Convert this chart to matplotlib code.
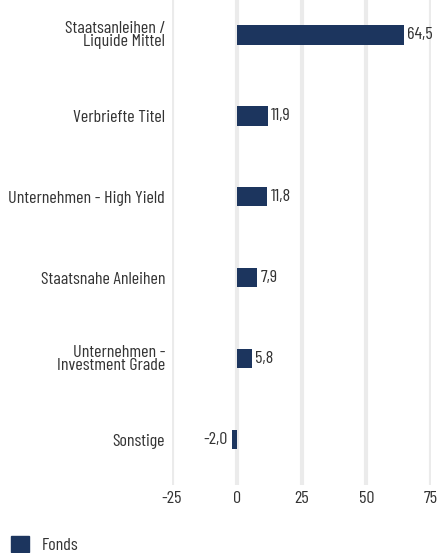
import matplotlib
matplotlib.use("Agg")
import matplotlib.pyplot as plt
from matplotlib.patches import Patch

categories = ["Staatsanleihen /\nLiquide Mittel", "Verbriefte Titel", "Unternehmen - High Yield",
              "Staatsnahe Anleihen", "Unternehmen -\nInvestment Grade", "Sonstige"]
values = [64.5, 11.9, 11.8, 7.9, 5.8, -2.0]
value_labels = ["64,5", "11,9", "11,8", "7,9", "5,8", "-2,0"]
xticks = [-25, 0, 25, 50, 75]
series_name = "Fonds"

plt.rcParams['font.family'] = ['Barlow Condensed', 'Roboto Condensed', 'DejaVu Sans']
plt.rcParams['font.weight'] = 'normal'
color = "#1c355e"
txt = "#333333"
fs = 13

fig = plt.figure(figsize=(4.41, 5.53), dpi=100)
ax = fig.add_axes([172/441, 1-485/553, (431-172)/441, 485/553])
y = list(range(len(categories)))
ax.barh(y, values, height=0.235, color=color, zorder=3)
for yi, v, lab in zip(y, values, value_labels):
    if v >= 0:
        ax.text(v + 1.4, yi, lab, va='center', ha='left', fontsize=fs, color=txt)
    else:
        ax.text(v - 1.4, yi, lab, va='center', ha='right', fontsize=fs, color=txt)
ax.set_xlim(-25, 75)
ax.set_ylim(5.556, -0.432)
ax.set_xticks(xticks)
ax.set_xticklabels([str(t) for t in xticks], fontsize=fs, color=txt)
ax.set_yticks(y)
ax.set_yticklabels(categories, fontsize=fs, color=txt, linespacing=0.8)
ax.tick_params(axis='x', length=0, pad=4)
ax.tick_params(axis='y', length=0, pad=5)
ax.grid(axis='x', color='#ebebeb', linewidth=3, zorder=0)
for s in ax.spines.values():
    s.set_visible(False)
fig.legend(handles=[Patch(color=color)], labels=[series_name], loc='lower left',
           bbox_to_anchor=(9/441, -0.004), frameon=False, fontsize=fs, handlelength=1.0,
           handleheight=1.0, handletextpad=0.7, borderaxespad=0, borderpad=0.1, labelcolor=txt)
fig.savefig("out.png", dpi=100)
